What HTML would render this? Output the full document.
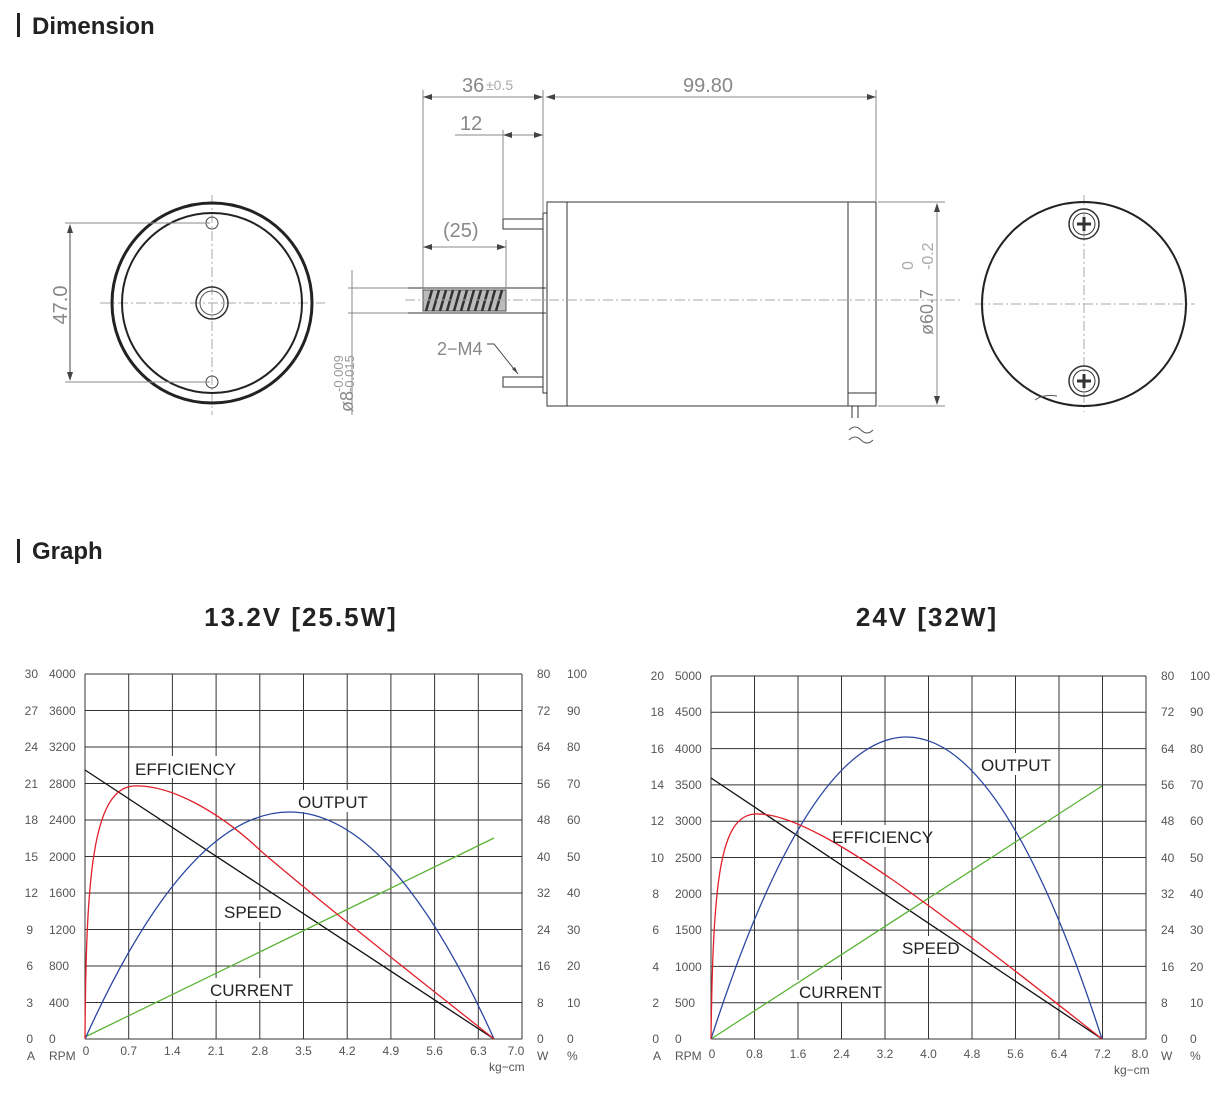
<!DOCTYPE html>
<html><head><meta charset="utf-8"><style>
html,body{margin:0;padding:0;background:#fff;}
svg{display:block;}
text{font-family:"Liberation Sans",sans-serif;}
.t{font-size:12px;fill:#555;}
.d{font-size:20px;fill:#888;}
.h{font-size:24px;font-weight:bold;fill:#222;}
.g{stroke:#333;stroke-width:1;}
.lb{font-size:17px;fill:#222;}
</style></head><body>
<svg width="1219" height="1101" viewBox="0 0 1219 1101" xmlns="http://www.w3.org/2000/svg">
<rect x="17" y="13" width="3" height="24" fill="#222"/>
<text x="32" y="34" class="h">Dimension</text>
<rect x="17" y="539" width="3" height="24" fill="#222"/>
<text x="32" y="559" class="h">Graph</text>

<g fill="none">
<line x1="212" y1="195" x2="212" y2="415" stroke="#aaa" stroke-dasharray="10,3,2,3"/>
<line x1="100" y1="303" x2="325" y2="303" stroke="#aaa" stroke-dasharray="10,3,2,3"/>
<circle cx="212" cy="303" r="100" stroke="#222" stroke-width="3"/>
<circle cx="212" cy="303" r="90" stroke="#222" stroke-width="2"/>
<circle cx="212" cy="303" r="16" stroke="#333" stroke-width="1.5"/>
<circle cx="212" cy="303" r="12" stroke="#555" stroke-width="1"/>
<circle cx="212" cy="223" r="6" stroke="#444"/>
<circle cx="212" cy="382" r="6" stroke="#444"/>
<line x1="65" y1="223" x2="210" y2="223" stroke="#888"/>
<line x1="65" y1="382" x2="210" y2="382" stroke="#888"/>
<line x1="70" y1="225" x2="70" y2="380" stroke="#444"/>
<path d="M70,224 l-3,9 h6z M70,381 l-3,-9 h6z" fill="#444"/>
<line x1="352" y1="270" x2="352" y2="415" stroke="#888"/>
<line x1="348" y1="288" x2="410" y2="288" stroke="#888"/>
<line x1="348" y1="313" x2="410" y2="313" stroke="#888"/>
</g>
<text class="d" transform="translate(67,305) rotate(-90)" text-anchor="middle">47.0</text>
<text class="d" transform="translate(353,412) rotate(-90)" style="font-size:18px">ø8</text>
<text transform="translate(343,392) rotate(-90)" style="font-size:13px;fill:#999">-0.009</text>
<text transform="translate(354,392) rotate(-90)" style="font-size:13px;fill:#999">-0.015</text>

<g fill="none" stroke="#333">
<line x1="408" y1="288" x2="546" y2="288"/>
<line x1="408" y1="313" x2="546" y2="313"/>
<rect x="423" y="290" width="83" height="21" fill="#bbb" stroke="#555"/>
<path d="M426,311 l6,-21 M433,311 l6,-21 M440,311 l6,-21 M447,311 l6,-21 M454,311 l6,-21 M461,311 l6,-21 M468,311 l6,-21 M475,311 l6,-21 M482,311 l6,-21 M489,311 l6,-21 M496,311 l6,-21" stroke="#333" stroke-width="2.5"/>
<rect x="503" y="219" width="40" height="10"/>
<rect x="503" y="377" width="40" height="10"/>
<rect x="543" y="213" width="4" height="180"/>
<rect x="547" y="202" width="20" height="204"/>
<rect x="567" y="202" width="281" height="204"/>
<rect x="848" y="202" width="28" height="204"/>
<line x1="848" y1="393" x2="876" y2="393"/>
<line x1="852" y1="406" x2="852" y2="418"/>
<line x1="858" y1="406" x2="858" y2="418"/>
<path d="M849,430 q6,-6 12,0 t12,0 M849,440 q6,-6 12,0 t12,0" stroke="#555"/>
<line x1="405" y1="300" x2="960" y2="300" stroke="#aaa" stroke-dasharray="10,3,2,3"/>
<g stroke="#888">
<line x1="423" y1="90" x2="423" y2="290"/>
<line x1="543" y1="90" x2="543" y2="213"/>
<line x1="876" y1="90" x2="876" y2="202"/>
<line x1="503" y1="130" x2="503" y2="219"/>
<line x1="506" y1="240" x2="506" y2="290"/>
<line x1="423" y1="97" x2="543" y2="97"/>
<line x1="546" y1="97" x2="876" y2="97"/>
<line x1="455" y1="135" x2="543" y2="135"/>
<line x1="423" y1="247" x2="506" y2="247"/>
<line x1="878" y1="202" x2="945" y2="202"/>
<line x1="878" y1="406" x2="945" y2="406"/>
<line x1="937" y1="204" x2="937" y2="404"/>
</g>
<path d="M487,344 h7 l24,30" stroke="#444"/>
</g>
<g fill="#444">
<path d="M423,97 l9,-3 v6z M543,97 l-9,-3 v6z M546,97 l9,-3 v6z M876,97 l-9,-3 v6z M503,135 l9,-3 v6z M543,135 l-9,-3 v6z M423,247 l9,-3 v6z M506,247 l-9,-3 v6z M937,203 l-3,9 h6z M937,405 l-3,-9 h6z M518,374 l-6,-5 l3,-2z"/>
</g>
<text x="462" y="92" class="d">36</text><text x="486" y="90" style="font-size:14px;fill:#aaa">±0.5</text>
<text x="683" y="92" class="d">99.80</text>
<text x="460" y="130" class="d">12</text>
<text x="443" y="237" class="d">(25)</text>
<text x="437" y="355" class="d" style="font-size:18px">2−M4</text>
<text class="d" transform="translate(933,335) rotate(-90)" style="font-size:18px">ø60.7</text>
<text transform="translate(913,270) rotate(-90)" style="font-size:16px;fill:#aaa">0</text>
<text transform="translate(933,270) rotate(-90)" style="font-size:16px;fill:#aaa">-0.2</text>

<g fill="none">
<line x1="975" y1="304" x2="1195" y2="304" stroke="#aaa" stroke-dasharray="10,3,2,3"/>
<line x1="1084" y1="195" x2="1084" y2="412" stroke="#aaa" stroke-dasharray="10,3,2,3"/>
<circle cx="1084" cy="304" r="102" stroke="#222" stroke-width="2"/>
<circle cx="1084" cy="224" r="15" stroke="#333" stroke-width="1.5"/>
<circle cx="1084" cy="224" r="11" stroke="#333"/>
<circle cx="1084" cy="381" r="15" stroke="#333" stroke-width="1.5"/>
<circle cx="1084" cy="381" r="11" stroke="#333"/>
<path d="M1077,224 h14 M1084,217 v14 M1077,381 h14 M1084,374 v14" stroke="#333" stroke-width="3"/>
<path d="M1035,400 q8,-6 22,-4" stroke="#555"/>
</g>

<text x="301" y="626" class="h" text-anchor="middle" style="font-size:26px;letter-spacing:2px">13.2V [25.5W]</text>
<text x="927" y="626" class="h" text-anchor="middle" style="font-size:26px;letter-spacing:2px">24V [32W]</text>

<g class="g">
<path d="M85,674V1039 M128.7,674V1039 M172.4,674V1039 M216.1,674V1039 M259.8,674V1039 M303.5,674V1039 M347.2,674V1039 M390.9,674V1039 M434.6,674V1039 M478.3,674V1039 M522,674V1039 M85,674H522 M85,710.5H522 M85,747H522 M85,783.5H522 M85,820H522 M85,856.5H522 M85,893H522 M85,929.5H522 M85,966H522 M85,1002.5H522 M85,1039H522" fill="none"/>
</g>
<rect x="132" y="756" width="98" height="22" fill="#fff"/>
<rect x="296" y="790" width="66" height="22" fill="#fff"/>
<rect x="222" y="900" width="56" height="22" fill="#fff"/>
<rect x="208" y="978" width="78" height="22" fill="#fff"/>
<g fill="none" stroke-width="1.3">
<path d="M85,770 L494,1039" stroke="#111"/>
<path d="M85,1037 L494,838" stroke="#5bb336"/>
<path d="M85,1039 Q289.5,585 494,1039" stroke="#2a46a0"/>
<path d="M85,1039 C86,880 92,790 133,786 C170,784 220,812 262,852 C330,910 420,980 494,1039" stroke="#e0202a"/>
</g>
<text x="135" y="775" class="lb">EFFICIENCY</text>
<text x="298" y="808" class="lb">OUTPUT</text>
<text x="224" y="918" class="lb">SPEED</text>
<text x="210" y="996" class="lb">CURRENT</text>
<g class="t" text-anchor="end">
<text x="38" y="678">30</text><text x="38" y="715">27</text><text x="38" y="751">24</text><text x="38" y="788">21</text><text x="38" y="824">18</text><text x="38" y="861">15</text><text x="38" y="897">12</text><text x="33" y="934">9</text><text x="33" y="970">6</text><text x="33" y="1007">3</text><text x="33" y="1043">0</text>
</g>
<g class="t">
<text x="49" y="678">4000</text><text x="49" y="715">3600</text><text x="49" y="751">3200</text><text x="49" y="788">2800</text><text x="49" y="824">2400</text><text x="49" y="861">2000</text><text x="49" y="897">1600</text><text x="49" y="934">1200</text><text x="49" y="970">800</text><text x="49" y="1007">400</text><text x="49" y="1043">0</text>
<text x="537" y="678">80</text><text x="537" y="715">72</text><text x="537" y="751">64</text><text x="537" y="788">56</text><text x="537" y="824">48</text><text x="537" y="861">40</text><text x="537" y="897">32</text><text x="537" y="934">24</text><text x="537" y="970">16</text><text x="537" y="1007">8</text><text x="537" y="1043">0</text>
<text x="567" y="678">100</text><text x="567" y="715">90</text><text x="567" y="751">80</text><text x="567" y="788">70</text><text x="567" y="824">60</text><text x="567" y="861">50</text><text x="567" y="897">40</text><text x="567" y="934">30</text><text x="567" y="970">20</text><text x="567" y="1007">10</text><text x="567" y="1043">0</text>
<text x="27" y="1060">A</text><text x="49" y="1060">RPM</text><text x="537" y="1060">W</text><text x="567" y="1060">%</text>
<text x="489" y="1071">kg−cm</text>
</g>
<g class="t" text-anchor="middle">
<text x="86" y="1055">0</text><text x="128.7" y="1055">0.7</text><text x="172.4" y="1055">1.4</text><text x="216.1" y="1055">2.1</text><text x="259.8" y="1055">2.8</text><text x="303.5" y="1055">3.5</text><text x="347.2" y="1055">4.2</text><text x="390.9" y="1055">4.9</text><text x="434.6" y="1055">5.6</text><text x="478.3" y="1055">6.3</text><text x="516" y="1055">7.0</text>
</g>

<g class="g">
<path d="M711,676V1039 M754.5,676V1039 M798,676V1039 M841.5,676V1039 M885,676V1039 M928.5,676V1039 M972,676V1039 M1015.5,676V1039 M1059,676V1039 M1102.5,676V1039 M1146,676V1039 M711,676H1146 M711,712.3H1146 M711,748.6H1146 M711,784.9H1146 M711,821.2H1146 M711,857.5H1146 M711,893.8H1146 M711,930.1H1146 M711,966.4H1146 M711,1002.7H1146 M711,1039H1146" fill="none"/>
</g>
<rect x="978" y="753" width="70" height="22" fill="#fff"/>
<rect x="829" y="825" width="98" height="22" fill="#fff"/>
<rect x="900" y="936" width="56" height="22" fill="#fff"/>
<rect x="797" y="980" width="78" height="22" fill="#fff"/>
<g fill="none" stroke-width="1.3">
<path d="M711,778 L1102,1039" stroke="#111"/>
<path d="M711,1039 L1102,786" stroke="#5bb336"/>
<path d="M711,1039 Q906.5,435 1102,1039" stroke="#2a46a0"/>
<path d="M711,1039 C713,880 720,816 755,814 C790,812 850,850 900,885 C970,935 1040,990 1102,1039" stroke="#e0202a"/>
</g>
<text x="981" y="771" class="lb">OUTPUT</text>
<text x="832" y="843" class="lb">EFFICIENCY</text>
<text x="902" y="954" class="lb">SPEED</text>
<text x="799" y="998" class="lb">CURRENT</text>
<g class="t" text-anchor="end">
<text x="664" y="680">20</text><text x="664" y="716">18</text><text x="664" y="753">16</text><text x="664" y="789">14</text><text x="664" y="825">12</text><text x="664" y="862">10</text><text x="659" y="898">8</text><text x="659" y="934">6</text><text x="659" y="971">4</text><text x="659" y="1007">2</text><text x="659" y="1043">0</text>
</g>
<g class="t">
<text x="675" y="680">5000</text><text x="675" y="716">4500</text><text x="675" y="753">4000</text><text x="675" y="789">3500</text><text x="675" y="825">3000</text><text x="675" y="862">2500</text><text x="675" y="898">2000</text><text x="675" y="934">1500</text><text x="675" y="971">1000</text><text x="675" y="1007">500</text><text x="675" y="1043">0</text>
<text x="1161" y="680">80</text><text x="1161" y="716">72</text><text x="1161" y="753">64</text><text x="1161" y="789">56</text><text x="1161" y="825">48</text><text x="1161" y="862">40</text><text x="1161" y="898">32</text><text x="1161" y="934">24</text><text x="1161" y="971">16</text><text x="1161" y="1007">8</text><text x="1161" y="1043">0</text>
<text x="1190" y="680">100</text><text x="1190" y="716">90</text><text x="1190" y="753">80</text><text x="1190" y="789">70</text><text x="1190" y="825">60</text><text x="1190" y="862">50</text><text x="1190" y="898">40</text><text x="1190" y="934">30</text><text x="1190" y="971">20</text><text x="1190" y="1007">10</text><text x="1190" y="1043">0</text>
<text x="653" y="1060">A</text><text x="675" y="1060">RPM</text><text x="1161" y="1060">W</text><text x="1190" y="1060">%</text>
<text x="1114" y="1074">kg−cm</text>
</g>
<g class="t" text-anchor="middle">
<text x="712" y="1058">0</text><text x="754.5" y="1058">0.8</text><text x="798" y="1058">1.6</text><text x="841.5" y="1058">2.4</text><text x="885" y="1058">3.2</text><text x="928.5" y="1058">4.0</text><text x="972" y="1058">4.8</text><text x="1015.5" y="1058">5.6</text><text x="1059" y="1058">6.4</text><text x="1102.5" y="1058">7.2</text><text x="1140" y="1058">8.0</text>
</g>
</svg>
</body></html>
